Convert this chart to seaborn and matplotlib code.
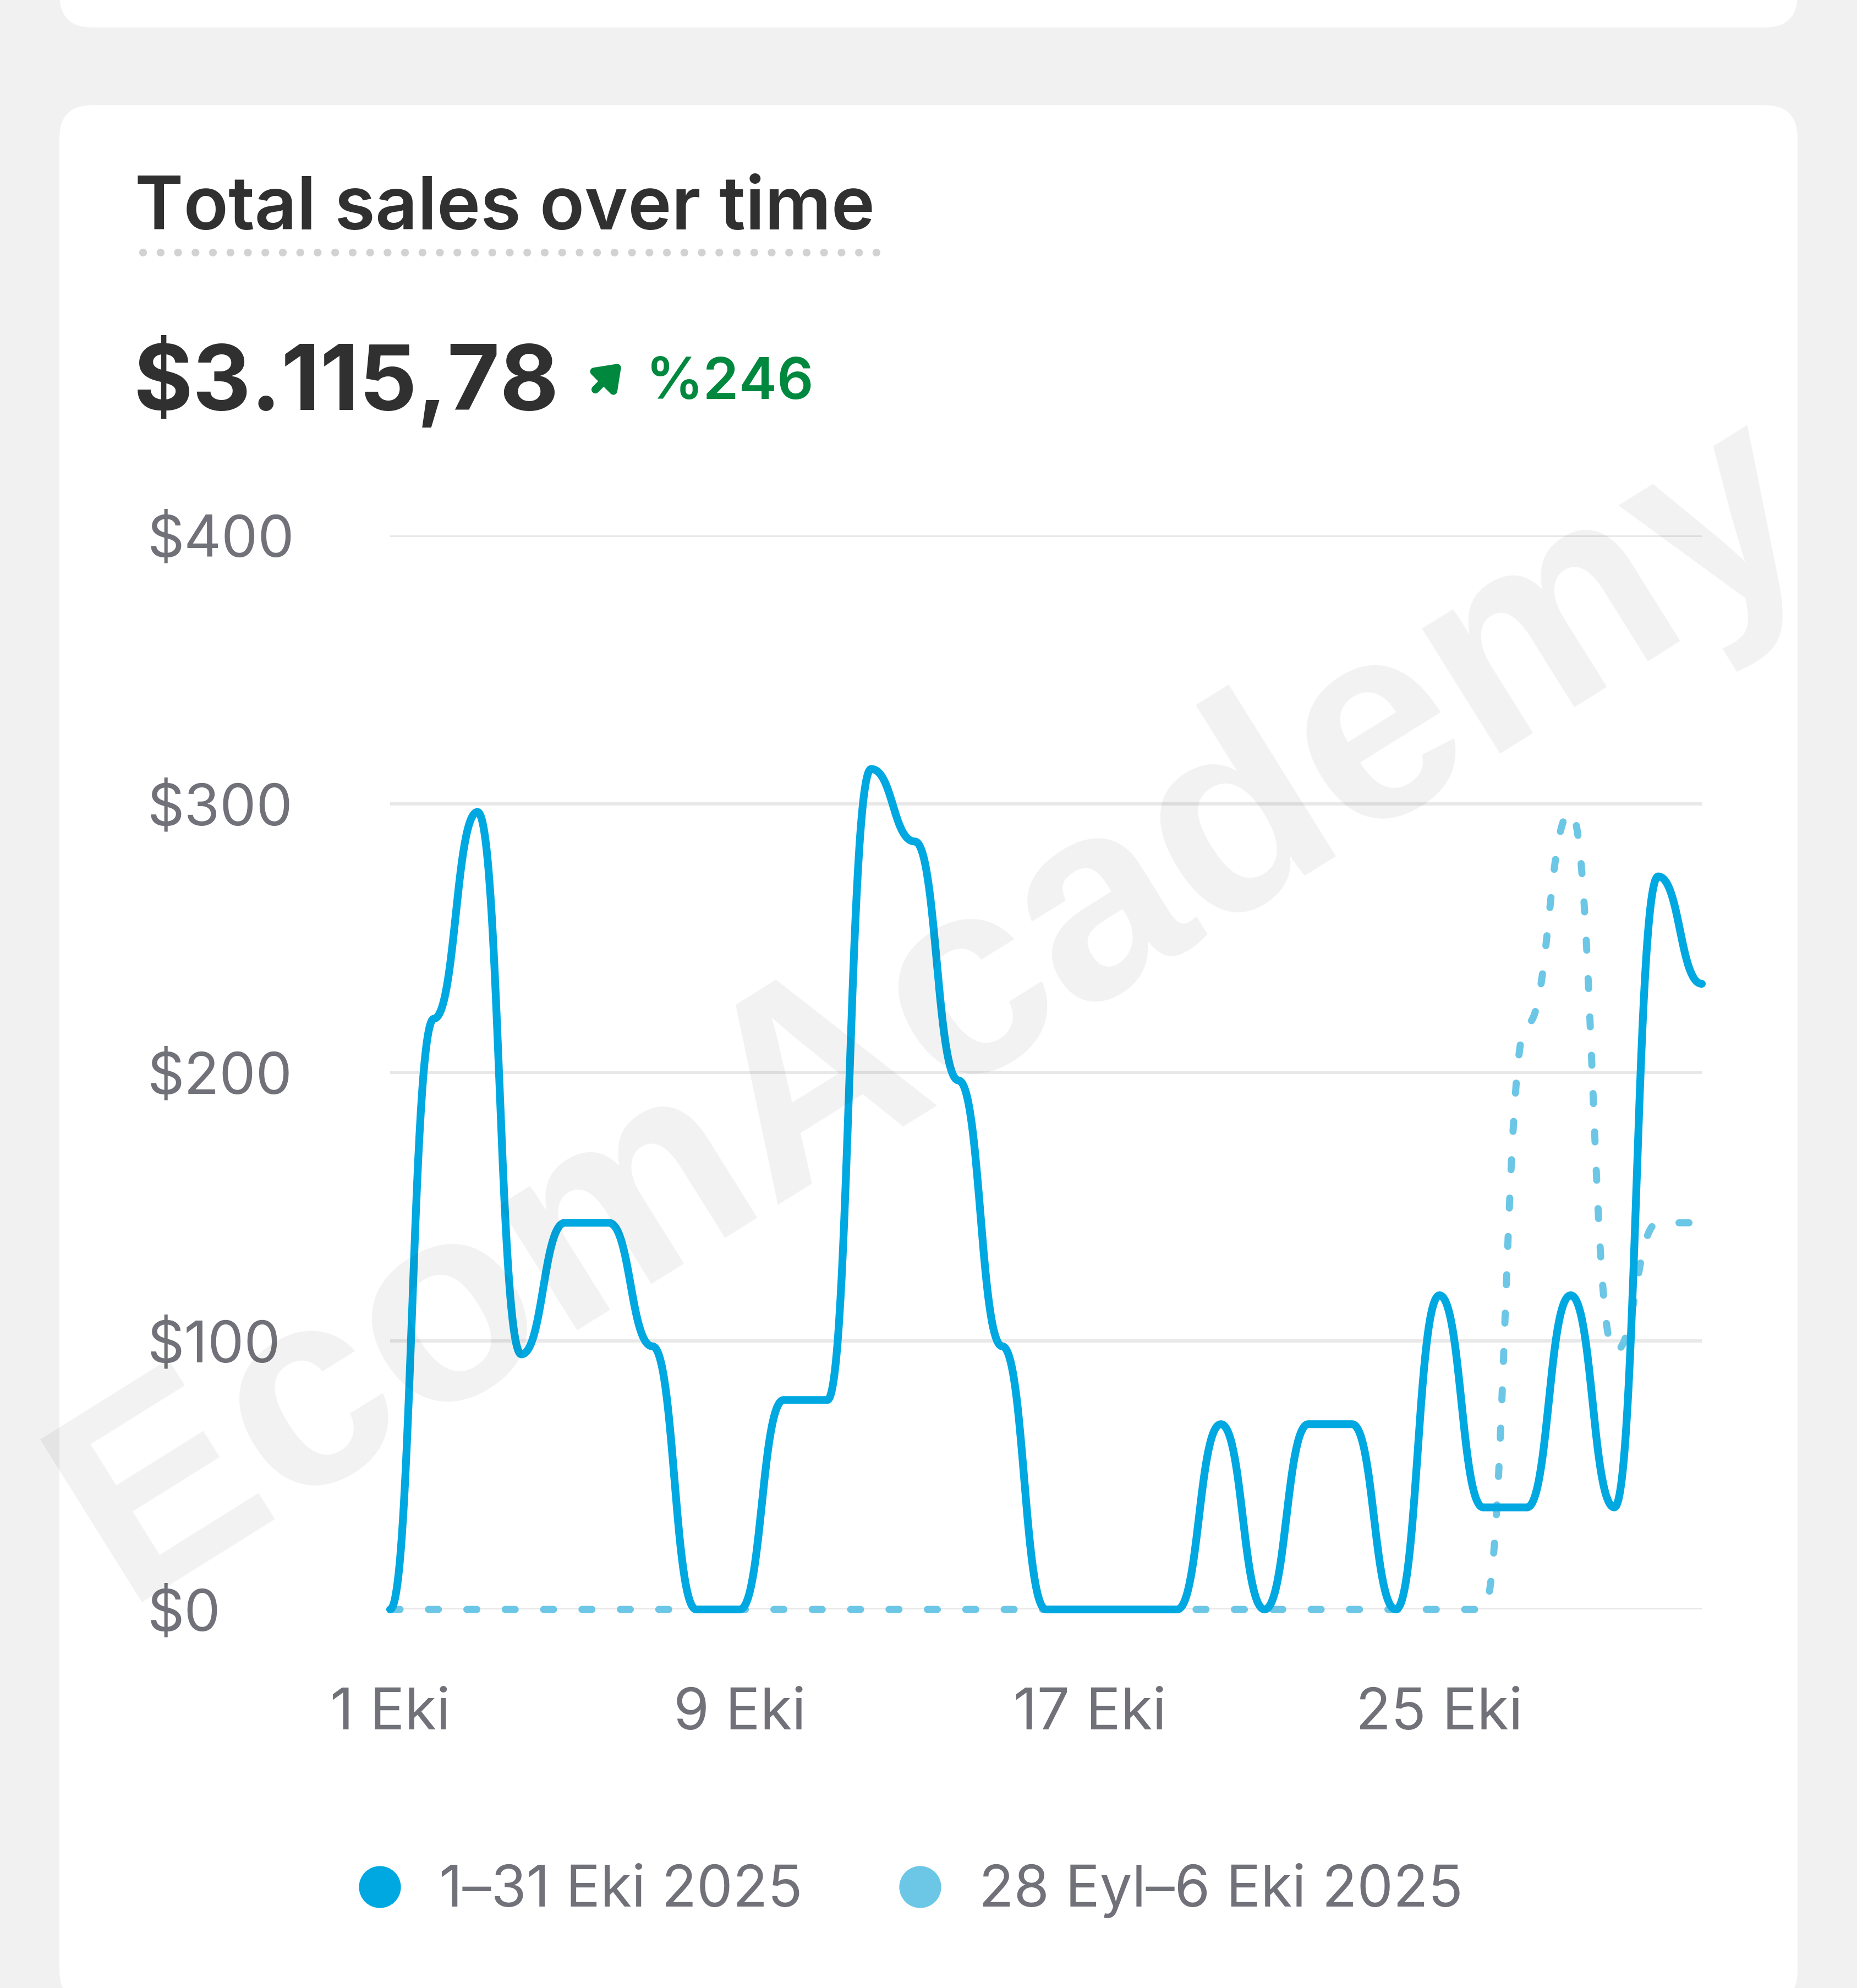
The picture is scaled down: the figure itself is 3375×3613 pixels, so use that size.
import numpy as np
import seaborn as sns
import matplotlib.pyplot as plt
from matplotlib.patches import FancyBboxPatch
from matplotlib.lines import Line2D

# daily values
days = list(range(1, 32))
current = [0, 220, 297, 95, 144, 144, 98, 0, 0, 78, 78, 313, 286, 197, 98,
           0, 0, 0, 0, 69, 0, 69, 69, 0, 117, 38, 38, 117, 38, 273, 233]
previous = [0, 0, 0, 0, 0, 0, 0, 0, 0, 0, 0, 0, 0, 0, 0,
            0, 0, 0, 0, 0, 0, 0, 0, 0, 0, 0, 218, 297, 96, 144, 144]

tick_days = [1, 9, 17, 25]
tick_labels = ["1 Eki", "9 Eki", "17 Eki", "25 Eki"]
y_ticks = [0, 100, 200, 300, 400]
y_labels = ["\\$0", "\\$100", "\\$200", "\\$300", "\\$400"]
series_names = ["1–31 Eki 2025", "28 Eyl–6 Eki 2025"]

BLUE = "#00A8E2"
LIGHT = "#6CC6E6"
GRAY = "#717179"
DARK = "#303030"
GREEN = "#00883F"


def bump_curve(x, y, n=60):
    # bezier with flat tangents at every point (like d3.curveBumpX)
    x = np.asarray(x, float)
    y = np.asarray(y, float)
    xs, ys = [], []
    for i in range(len(x) - 1):
        s = np.linspace(0, 1, n, endpoint=(i == len(x) - 2))
        x0, x1, y0, y1 = x[i], x[i + 1], y[i], y[i + 1]
        xm = (x0 + x1) / 2
        b0, b1, b2, b3 = (1 - s)**3, 3 * (1 - s)**2 * s, 3 * (1 - s) * s**2, s**3
        xs.append(b0 * x0 + (b1 + b2) * xm + b3 * x1)
        ys.append((b0 + b1) * y0 + (b2 + b3) * y1)
    return np.concatenate(xs), np.concatenate(ys)


W, H, DPI = 3375, 3613, 300
sns.set_theme(style="white")
plt.rcParams['font.family'] = ['Inter', 'DejaVu Sans']

fig = plt.figure(figsize=(W / DPI, H / DPI), dpi=DPI, facecolor="#F1F1F1")

# background layer in pixel coordinates
bg = fig.add_axes([0, 0, 1, 1], zorder=0)
bg.set_xlim(0, W)
bg.set_ylim(H, 0)
bg.axis("off")
bg.add_patch(FancyBboxPatch((108, -300), 3159, 350, boxstyle="round,pad=0,rounding_size=60",
                            fc="white", ec="none"))
bg.add_patch(FancyBboxPatch((108, 191), 3159, 3450, boxstyle="round,pad=0,rounding_size=60",
                            fc="white", ec="none"))

bg.text(245, 417, "Total sales over time", fontsize=32.2, fontweight="semibold",
        color=DARK, va="baseline", ha="left")
bg.plot([260, 1595], [459, 459], color="#D2D2D2", lw=3.4,
        linestyle=(0, (0.01, 2.23)), dash_capstyle="round")
bg.text(243, 745, "\\$3.115,78", fontsize=39.5, fontweight="bold",
        color=DARK, va="baseline", ha="left")
bg.annotate("", xy=(1130, 660), xytext=(1082, 708),
            arrowprops=dict(arrowstyle="-|>,head_length=0.55,head_width=0.4",
                            color=GREEN, lw=3.4, mutation_scale=15, shrinkA=0, shrinkB=0))
bg.text(1174, 725, "%246", fontsize=25, fontweight="semibold",
        color=GREEN, va="baseline", ha="left")

# chart
ax = fig.add_axes([709 / W, 1 - 2925 / H, 2384 / W, 1952 / H], zorder=1)
ax.patch.set_alpha(0)

px, py = bump_curve(days, previous)
sns.lineplot(x=px, y=py, ax=ax, color=LIGHT, lw=3.1, estimator=None,
             linestyle=(0, (1.4, 4.0)), dash_capstyle="round", clip_on=False, zorder=3)
cx, cy = bump_curve(days, current)
sns.lineplot(x=cx, y=cy, ax=ax, color=BLUE, lw=3.4, estimator=None,
             solid_capstyle="round", clip_on=False, zorder=4)

ax.set_xlim(1, 31)
ax.set_ylim(0, 400)
ax.set_xticks(tick_days)
ax.set_xticklabels(tick_labels)
ax.set_yticks(y_ticks)
ax.set_yticklabels(y_labels)
ax.grid(axis="y", color="#E8E8E8", lw=1.4)
ax.grid(axis="x", visible=False)
for sp in ax.spines.values():
    sp.set_visible(False)
ax.tick_params(axis="both", length=0, labelsize=25.2, labelcolor=GRAY)
ax.tick_params(axis="y", pad=106)
ax.tick_params(axis="x", pad=34)
for lab in ax.get_yticklabels():
    lab.set_ha("left")
ax.set_xlabel("")
ax.set_ylabel("")

handles = [Line2D([], [], marker="o", linestyle="", markersize=17.3, color=c)
           for c in (BLUE, LIGHT)]
fig.legend(handles, series_names, loc="center left",
           bbox_to_anchor=(654 / W, 1 - 3436 / H), ncol=2, frameon=False,
           fontsize=25, labelcolor=GRAY, handlelength=0.7, handletextpad=0.68,
           columnspacing=1.7, borderpad=0, borderaxespad=0)

# watermark
fig.text(1700 / W, 1 - 1835 / H, "EcomAcademy", rotation=32, fontsize=122,
         fontweight="bold", family="Liberation Sans", color="black", alpha=0.055,
         ha="center", va="center", rotation_mode="anchor", zorder=10)

fig.savefig("out.png", dpi=DPI, facecolor=fig.get_facecolor())
